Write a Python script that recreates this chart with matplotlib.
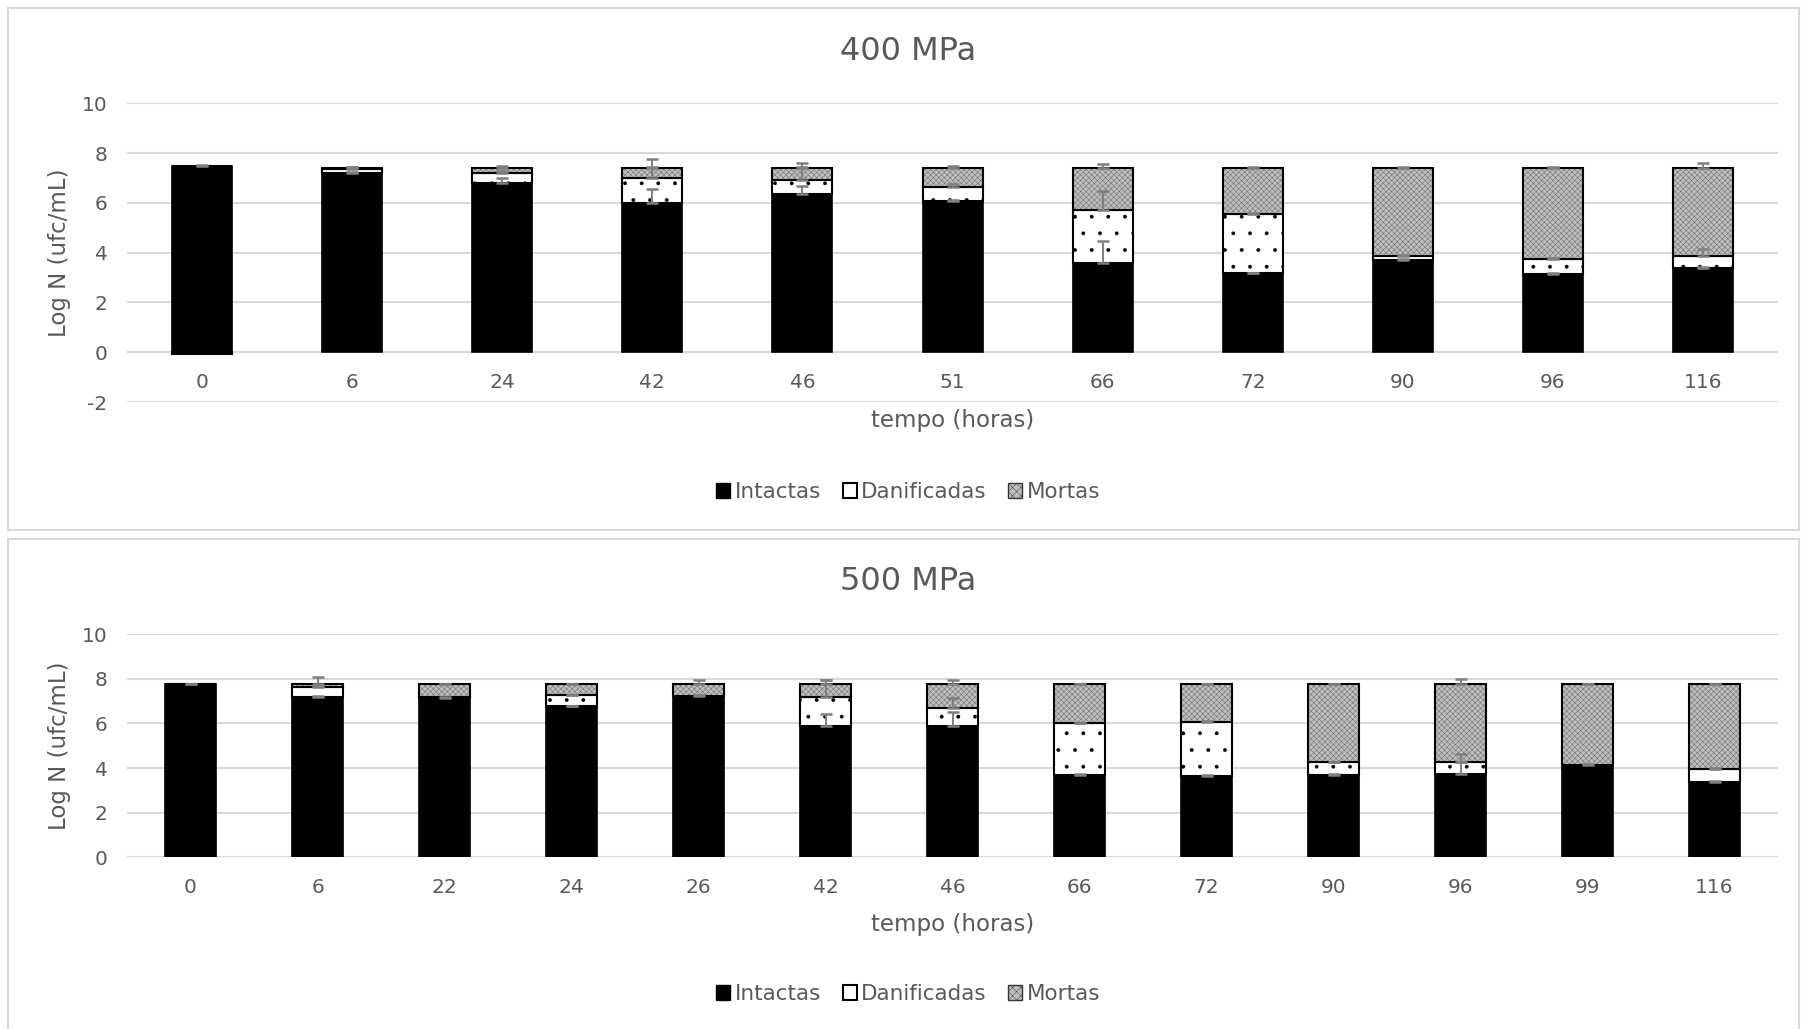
import matplotlib.pyplot as plt
import matplotlib.patches as mpatches
import numpy as np

# 400 MPa
tempos_400 = ["0", "6", "24", "42", "46", "51", "66", "72", "90", "96", "116"]
intactas_400 = [7.50, 7.20, 6.82, 5.98, 6.34, 6.07, 3.60, 3.17, 3.71, 3.14, 3.40]
danificadas_400 = [-0.08, 0.17, 0.40, 1.01, 0.60, 0.58, 2.11, 2.40, 0.16, 0.60, 0.45]
mortas_400 = [0.00, 0.05, 0.20, 0.43, 0.48, 0.77, 1.71, 1.85, 3.55, 3.68, 3.57]
err_int_400 = [0.03, 0.05, 0.18, 0.60, 0.36, 0.03, 0.87, 0.03, 0.03, 0.03, 0.03]
err_dan_400 = [0.00, 0.08, 0.05, 0.77, 0.66, 0.10, 0.78, 0.03, 0.03, 0.03, 0.29]
err_mor_400 = [0.00, 0.03, 0.08, 0.03, 0.03, 0.08, 0.15, 0.03, 0.03, 0.03, 0.20]

# 500 MPa
tempos_500 = ["0", "6", "22", "24", "26", "42", "46", "66", "72", "90", "96", "99", "116"]
intactas_500 = [7.75, 7.18, 7.13, 6.76, 7.25, 5.90, 5.90, 3.68, 3.65, 3.68, 3.72, 4.14, 3.38]
danificadas_500 = [0.00, 0.45, 0.05, 0.50, 0.00, 1.28, 0.80, 2.32, 2.43, 0.57, 0.53, 0.00, 0.57]
mortas_500 = [0.00, 0.12, 0.57, 0.49, 0.50, 0.57, 1.05, 1.75, 1.67, 3.50, 3.50, 3.61, 3.80]
err_int_500 = [0.03, 0.03, 0.05, 0.03, 0.03, 0.53, 0.63, 0.03, 0.03, 0.03, 0.90, 0.03, 0.03]
err_dan_500 = [0.00, 0.03, 0.00, 0.03, 0.00, 0.75, 0.43, 0.03, 0.03, 0.03, 0.03, 0.00, 0.03]
err_mor_500 = [0.00, 0.35, 0.03, 0.03, 0.18, 0.18, 0.18, 0.03, 0.03, 0.03, 0.25, 0.03, 0.03]

text_color = "#595959"
grid_color = "#d9d9d9"
mortas_face = "#bdbdbd"
mortas_hatch = "#5e5e5e"

plt.rcParams["font.family"] = "DejaVu Sans"
plt.rcParams["axes.unicode_minus"] = False
plt.rcParams["hatch.linewidth"] = 0.3

fig = plt.figure(figsize=(18.02, 10.29), dpi=100)

# chart area borders (as in the Excel export)
fig.add_artist(mpatches.Rectangle((0.0044, 0.485), 0.9939, 0.5073, transform=fig.transFigure,
                                  fill=False, edgecolor=grid_color, lw=1.5))
fig.add_artist(mpatches.Rectangle((0.0044, -0.02), 0.9939, 0.4962, transform=fig.transFigure,
                                  fill=False, edgecolor=grid_color, lw=1.5))


def draw_panel(ax, labels, intactas, danif, mortas, e_int, e_dan, e_mor, ymin, xlabel_y):
    n = len(labels)
    x = np.arange(n)
    w = 0.4
    pos = np.zeros(n)
    neg = np.zeros(n)
    series = [(intactas, e_int, "int"), (danif, e_dan, "dan"), (mortas, e_mor, "mor")]
    for vals, errs, kind in series:
        vals = np.array(vals)
        errs = np.array(errs)
        bottoms = np.where(vals >= 0, pos, neg)
        if kind == "int":
            ax.bar(x, vals, w, bottom=bottoms, color="black", edgecolor="black", lw=1.2, zorder=3)
        elif kind == "dan":
            ax.bar(x, vals, w, bottom=bottoms, color="white", edgecolor="black", lw=1.5,
                   hatch=".", zorder=3)
        else:
            ax.bar(x, vals, w, bottom=bottoms, color=mortas_face, edgecolor=mortas_hatch, lw=0,
                   hatch="xxxxxx", zorder=3)
            ax.bar(x, vals, w, bottom=bottoms, fill=False, edgecolor="black", lw=1.5, zorder=3)
        tops = bottoms + vals
        m = errs > 0
        # plus-only error bars, as in the original chart
        ax.errorbar(x[m], tops[m], yerr=[np.zeros(m.sum()), errs[m]], fmt="none",
                    ecolor="#7f7f7f", elinewidth=1.4, capsize=4.5, capthick=1.8, zorder=5)
        pos = np.where(vals >= 0, pos + vals, pos)
        neg = np.where(vals < 0, neg + vals, neg)

    ax.set_xlim(-0.5, n - 0.5)
    ax.set_ylim(ymin, 10)
    ax.set_yticks(range(ymin, 11, 2))
    ax.set_xticks(x)
    ax.set_xticklabels(labels)
    ax.yaxis.grid(True, color=grid_color, lw=1.5)
    ax.set_axisbelow(True)
    for s in ax.spines.values():
        s.set_visible(False)
    ax.spines["bottom"].set_position(("data", 0))
    ax.tick_params(axis="x", length=0, pad=15, labelsize=14.5, labelcolor=text_color)
    ax.tick_params(axis="y", length=0, pad=14, labelsize=14.5, labelcolor=text_color)
    ax.set_ylabel("Log N (ufc/mL)", fontsize=16.5, color=text_color)
    ax.yaxis.set_label_coords(-0.034, 0.5)
    ax.set_xlabel("tempo (horas)", fontsize=16.5, color=text_color)
    ax.xaxis.set_label_coords(0.5, xlabel_y)


ax1 = fig.add_axes([0.0705, 0.6093, 0.9162, 0.2902])
draw_panel(ax1, tempos_400, intactas_400, danificadas_400, mortas_400,
           err_int_400, err_dan_400, err_mor_400, -2, -0.025)

ax2 = fig.add_axes([0.0705, 0.167, 0.9162, 0.2166])
draw_panel(ax2, tempos_500, intactas_500, danificadas_500, mortas_500,
           err_int_500, err_dan_500, err_mor_500, 0, -0.25)

fig.text(0.504, 1 - 52 / 1029, "400 MPa", ha="center", va="center", fontsize=23, color=text_color)
fig.text(0.504, 1 - 581 / 1029, "500 MPa", ha="center", va="center", fontsize=23, color=text_color)

handles = [
    mpatches.Patch(facecolor="black", edgecolor="black", label="Intactas"),
    mpatches.Patch(facecolor="white", edgecolor="black", lw=1.5, label="Danificadas"),
    mpatches.Patch(facecolor=mortas_face, edgecolor="#333333", hatch="xxxx", label="Mortas"),
]
for ly in [1 - 492 / 1029, 1 - 994 / 1029]:
    fig.legend(handles=handles, loc="center", bbox_to_anchor=(0.504, ly), ncol=3, frameon=False,
               fontsize=15.5, labelcolor=text_color, handlelength=0.65, handleheight=0.65,
               handletextpad=0.2, columnspacing=1.0)

fig.savefig("out.png", dpi=100)
